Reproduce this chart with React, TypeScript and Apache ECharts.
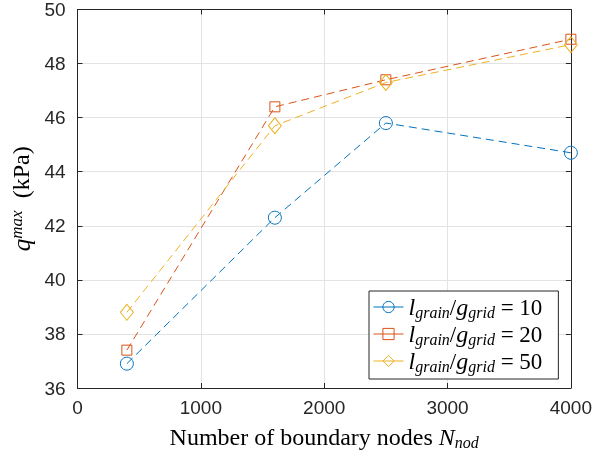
import React, { useEffect, useRef } from "react";
import * as echarts from "echarts";

const nodes = [400, 1600, 2500, 4000];
const q10 = [36.9, 42.3, 45.8, 44.7];
const q20 = [37.4, 46.4, 47.4, 48.9];
const q50 = [38.8, 45.7, 47.3, 48.7];
const ratios = ["10", "20", "50"];

const colors = ["#0072BD", "#D95319", "#EDB120"];
const AX = "#262626";
const SERIF = "Liberation Serif";
const SANS = "Liberation Sans";

export default function App() {
  const ref = useRef<HTMLDivElement>(null);
  useEffect(() => {
    if (!ref.current) return;
    const chart = echarts.init(ref.current, null, { renderer: "svg" });
    const mk = (d: number[]) => d.map((v, i) => [nodes[i], v]);
    const symbols = ["circle", "rect", "diamond"];
    const sizes: any[] = [13, 10, [13, 16]];
    const all = [q10, q20, q50];
    const series = all.map((d, k) => ({
      name: ratios[k],
      type: "line",
      data: mk(d),
      symbol: symbols[k],
      symbolSize: sizes[k],
      showAllSymbol: true,
      lineStyle: { color: colors[k], width: 1, type: [8, 5] },
      itemStyle: { color: "rgba(255,255,255,0)", borderColor: colors[k], borderWidth: 1 },
      emphasis: { disabled: true },
      z: 2 + k,
    }));
    const sub = { fontFamily: SERIF, fontStyle: "italic", fontSize: 16, lineHeight: 12, verticalAlign: "bottom", color: "#000" };
    const main = { fontFamily: SERIF, fontStyle: "italic", fontSize: 24, lineHeight: 26, verticalAlign: "middle", color: "#000" };
    const up = { fontFamily: SERIF, fontSize: 23, lineHeight: 26, color: "#000", verticalAlign: "middle" };
    const upX = { ...up, fontSize: 24 };
    const fmt = (v: number) => String(v);
    chart.setOption({
      animation: false,
      grid: { left: 77, right: 20, top: 7, bottom: 68, containLabel: false },
      xAxis: [
        {
          type: "value", min: 0, max: 4000, interval: 1000,
          axisLine: { show: true, lineStyle: { color: AX, width: 1 } },
          axisTick: { show: true, inside: true, length: 5, lineStyle: { color: AX } },
          axisLabel: { color: AX, fontSize: 19, fontFamily: SANS, margin: 10, formatter: fmt },
          splitLine: { show: true, lineStyle: { color: "#e3e3e3", width: 1 } },
          name: "{u|Number of boundary nodes }{i|N}{s|nod}",
          nameLocation: "middle",
          nameGap: 36,
          nameTextStyle: { rich: { u: upX, i: main, s: sub } },
        },
        {
          type: "value", min: 0, max: 4000, interval: 1000, position: "top",
          axisLine: { show: true, onZero: false, lineStyle: { color: AX, width: 1 } },
          axisTick: { show: true, inside: true, length: 5, lineStyle: { color: AX } },
          axisLabel: { show: false },
          splitLine: { show: false },
        },
      ],
      yAxis: [
        {
          type: "value", min: 36, max: 50, interval: 2,
          axisLine: { show: true, lineStyle: { color: AX, width: 1 } },
          axisTick: { show: true, inside: true, length: 5, lineStyle: { color: AX } },
          axisLabel: { color: AX, fontSize: 19, fontFamily: SANS, margin: 12, formatter: fmt },
          splitLine: { show: true, lineStyle: { color: "#e3e3e3", width: 1 } },
          name: "{i|q}{p|max}{u|  (kPa)}",
          nameLocation: "middle",
          nameRotate: 90,
          nameGap: 41,
          nameTextStyle: {
            rich: {
              i: { ...main, fontSize: 25 },
              p: { ...sub, fontSize: 17, verticalAlign: "top" },
              u: { ...up, fontSize: 24 },
            },
          },
        },
        {
          type: "value", min: 36, max: 50, interval: 2, position: "right",
          axisLine: { show: true, onZero: false, lineStyle: { color: AX, width: 1 } },
          axisTick: { show: true, inside: true, length: 5, lineStyle: { color: AX } },
          axisLabel: { show: false },
          splitLine: { show: false },
        },
      ],
      legend: {
        orient: "vertical",
        left: 369,
        top: 291,
        backgroundColor: "#fff",
        borderColor: AX,
        borderWidth: 1,
        borderRadius: 0,
        padding: [4, 16, 5, 4],
        itemGap: 2,
        itemWidth: 30,
        itemHeight: 14,
        lineStyle: { type: "solid", width: 1 },
        itemStyle: { borderWidth: 1 },
        data: ratios,
        formatter: (n: string) => `{i|l}{s|grain}{u|/}{i|g}{s|grid}{u| = ${n}}`,
        textStyle: { rich: { i: main, s: sub, u: up } },
      },
      series,
    });
    return () => chart.dispose();
  }, []);
  return (
    <div
      ref={ref}
      style={{ position: "fixed", left: 0, top: 0, width: 595, height: 456 }}
    />
  );
}
